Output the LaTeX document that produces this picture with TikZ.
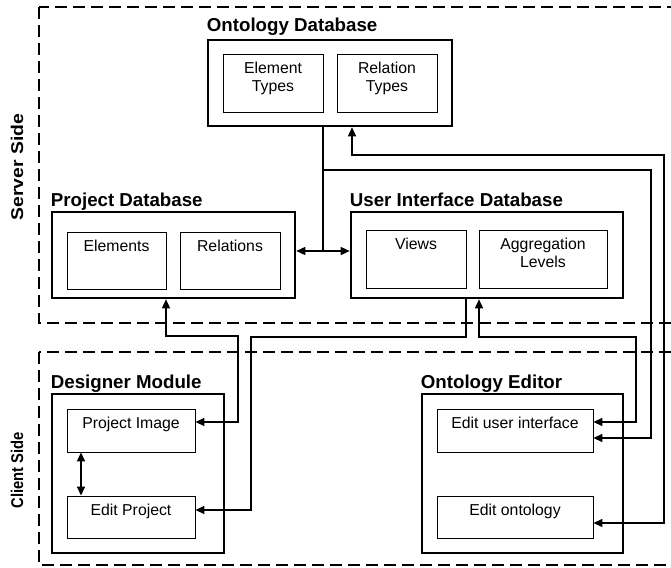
\documentclass[tikz,border=0pt]{standalone}
\usepackage{fontspec}
\setmainfont{Liberation Sans}
\usetikzlibrary{arrows.meta,calc}

\begin{document}
\begin{tikzpicture}[
  x=1pt, y=-1pt,
  >={Triangle[length=9pt,width=8pt]},
  every node/.style={font=\fontsize{15.8}{18}\selectfont},
  outerbox/.style={draw, line width=2.6pt, inner sep=0pt},
  innerbox/.style={draw, line width=0.9pt, inner sep=0pt},
  intext/.style={anchor=north, align=center, inner sep=8.5pt},
  ttl/.style={anchor=base west, inner sep=0pt, font=\fontsize{18.7}{22}\selectfont\bfseries},
  side/.style={rotate=90, inner sep=0pt, font=\fontsize{17}{20}\selectfont\bfseries},
  region/.style={dash pattern=on 12pt off 6pt, line width=2.4pt},
  conn/.style={line width=1.5pt}
]
\useasboundingbox (0,0) rectangle (671,567);
\clip (0,0) rectangle (671,567);

% server side and client side
\draw[region] (39,7) rectangle (700,323);
\draw[region] (39,352) rectangle (700,565);
\node[side] (server) at (17,167) {\scalebox{1.14}[1]{Server Side}};
\node[side] (client) at (17,470) {\scalebox{0.87}[1]{Client Side}};

% databases
\node[outerbox, minimum width=244pt, minimum height=86pt] (odb) at (330,83) {};
\node[ttl] (odbt) at ([yshift=7pt]odb.north west) {Ontology Database};
\node[innerbox, minimum width=100pt, minimum height=58pt, label={[intext]north:Element\\Types}] (etype) at (273,83) {};
\node[innerbox, minimum width=100pt, minimum height=58pt, label={[intext]north:Relation\\Types}] (rtype) at (387,83) {};

\node[outerbox, minimum width=243pt, minimum height=86pt] (pdb) at (173.5,255) {};
\node[ttl] (pdbt) at ([yshift=4pt]pdb.north west) {Project Database};
\node[innerbox, minimum width=99pt, minimum height=57pt, label={[intext]north:Elements}] (elem) at (116.5,260.5) {};
\node[innerbox, minimum width=100pt, minimum height=57pt, label={[intext]north:Relations}] (rel) at (230,260.5) {};

\node[outerbox, minimum width=272pt, minimum height=86pt] (uidb) at (487,255) {};
\node[ttl] (uidbt) at ([yshift=4pt]uidb.north west) {User Interface Database};
\node[innerbox, minimum width=100pt, minimum height=58pt, label={[intext]north:Views}] (views) at (416,259) {};
\node[innerbox, minimum width=128pt, minimum height=58pt, label={[intext]north:Aggregation\\Levels}] (aggr) at (543,259) {};

% client modules
\node[outerbox, minimum width=172pt, minimum height=159pt] (dm) at (138,473.5) {};
\node[ttl] (dmt) at ([yshift=4pt]dm.north west) {Designer Module};
\node[innerbox, minimum width=128pt, minimum height=43pt, label={[intext]north:Project Image}] (pimg) at (131,430.5) {};
\node[innerbox, minimum width=128pt, minimum height=42pt, label={[intext]north:Edit Project}] (eproj) at (131,517) {};

\node[outerbox, minimum width=201pt, minimum height=159pt] (oe) at (522.5,473.5) {};
\node[ttl] (oet) at ([yshift=4pt]oe.north west) {Ontology Editor};
\node[innerbox, minimum width=156pt, minimum height=43pt, label={[intext]north:Edit user interface}] (eui) at (515,430.5) {};
\node[innerbox, minimum width=156pt, minimum height=42pt, label={[intext]north:Edit ontology}] (eont) at (515,517) {};

% connectors
\coordinate (tap) at (323,251);
\coordinate (split) at (323,170);
\draw[conn,<->] ([yshift=4pt]pdb.east) -- ([yshift=4pt]uidb.west);
\draw[conn] ([xshift=-7pt]odb.south) -- (tap);
\draw[conn,->] (split) -- (651,170) |- ([yshift=-7.5pt]eui.east);
\draw[conn,<->] ([xshift=22pt]odb.south) |- (664,155) |- ([yshift=-6pt]eont.east);
\draw[conn,<->] ([xshift=-8pt]uidb.south) |- (636,337) |- ([yshift=8.5pt]eui.east);
\draw[conn,->] ([xshift=-21pt]uidb.south) |- (251,337) |- ([yshift=7pt]eproj.east);
\draw[conn,<->] ([xshift=-7.5pt]pdb.south) |- (238,336) |- ([yshift=8.5pt]pimg.east);
\draw[conn,<->] ([xshift=-50pt]pimg.south) -- ([xshift=-50pt]eproj.north);
\end{tikzpicture}
\end{document}
